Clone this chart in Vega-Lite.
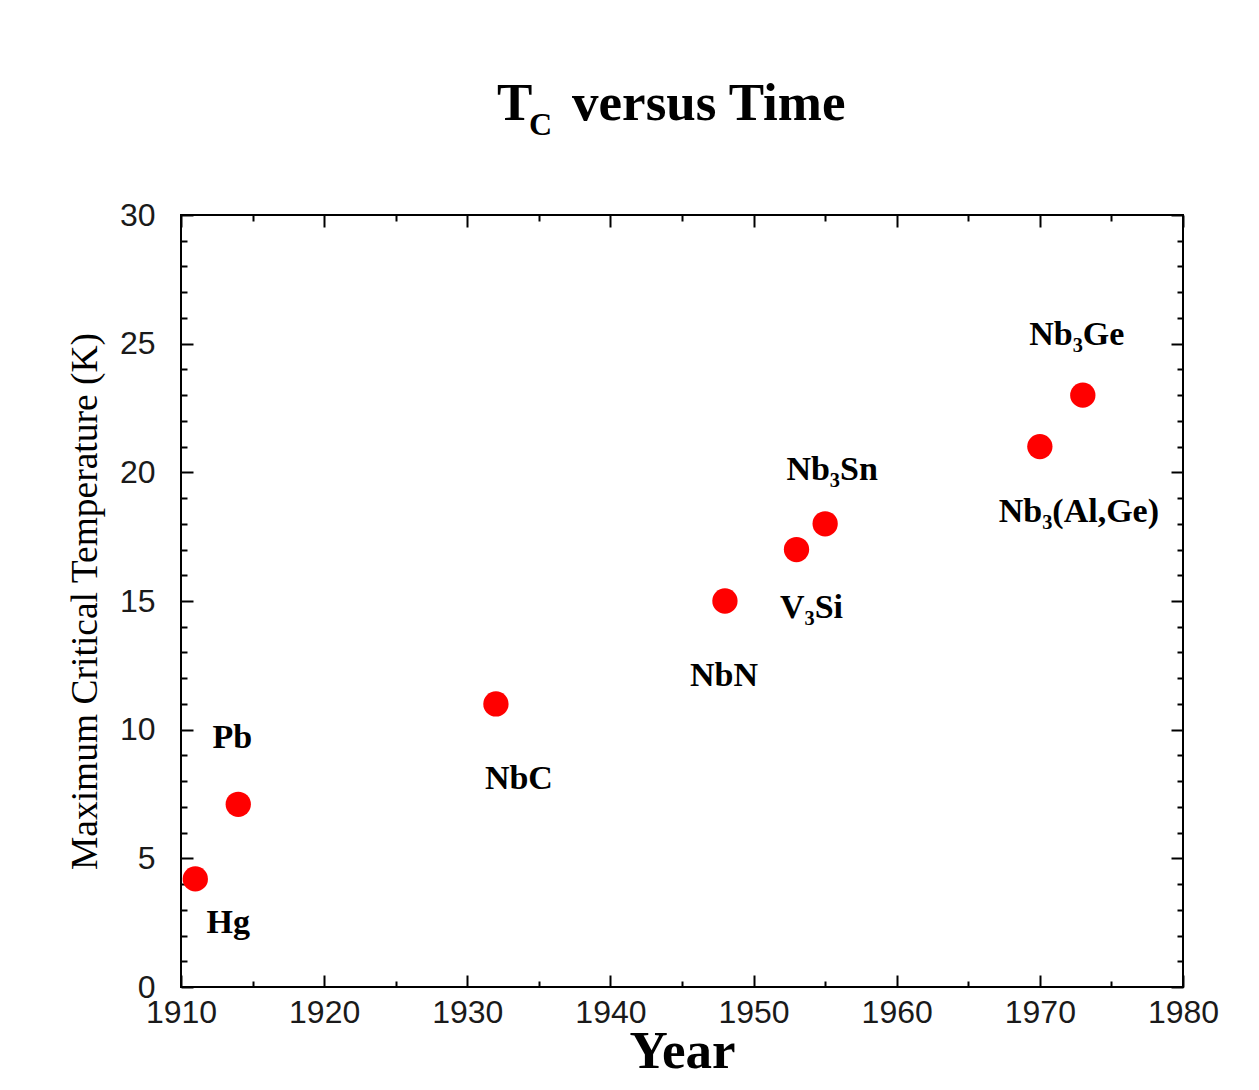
{
  "$schema": "https://vega.github.io/schema/vega-lite/v6.json",
  "width": 1002,
  "height": 772,
  "autosize": {"type": "none"},
  "padding": {"left": 181, "top": 215, "right": 76, "bottom": 103},
  "background": "white",
  "title": {
    "text": "T\u2002 versus Time",
    "subtitle": "\u200b\u00a0\u00a0\u00a0\u00a0C",
    "anchor": "start",
    "frame": "group",
    "dx": 316,
    "offset": 58,
    "font": "Liberation Serif",
    "fontWeight": "bold",
    "fontSize": 53,
    "color": "black",
    "subtitleFont": "Liberation Serif",
    "subtitleFontWeight": "bold",
    "subtitleFontSize": 32,
    "subtitleColor": "black",
    "subtitlePadding": -21
  },
  "data": {
    "values": [
      {"material": "Hg", "year": 1911, "tc": 4.2},
      {"material": "Pb", "year": 1914, "tc": 7.1},
      {"material": "NbC", "year": 1932, "tc": 11},
      {"material": "NbN", "year": 1948, "tc": 15},
      {"material": "V₃Si", "year": 1953, "tc": 17},
      {"material": "Nb₃Sn", "year": 1955, "tc": 18},
      {"material": "Nb₃(Al,Ge)", "year": 1970, "tc": 21},
      {"material": "Nb₃Ge", "year": 1973, "tc": 23}
    ]
  },
  "resolve": {"axis": {"x": "independent", "y": "independent"}},
  "layer": [
    {
      "mark": {"type": "point", "shape": "circle", "filled": true, "size": 640, "color": "#ff0000", "opacity": 1},
      "encoding": {
        "x": {
          "field": "year", "type": "quantitative",
          "scale": {"domain": [1910, 1980], "nice": false, "zero": false},
          "axis": {
            "orient": "bottom",
            "values": [1910, 1920, 1930, 1940, 1950, 1960, 1970, 1980],
            "format": "d",
            "tickSize": -12,
            "labelPadding": 22,
            "title": "Year",
            "titleFont": "Liberation Serif",
            "titleFontWeight": "bold",
            "titleFontSize": 53,
            "titlePadding": -3
          }
        },
        "y": {
          "field": "tc", "type": "quantitative",
          "scale": {"domain": [0, 30], "nice": false, "zero": true},
          "axis": {
            "orient": "left",
            "values": [0, 5, 10, 15, 20, 25, 30],
            "tickSize": -12,
            "labelPadding": 38,
            "title": "Maximum Critical Temperature (K)",
            "titleFont": "Liberation Serif",
            "titleFontWeight": "normal",
            "titleFontSize": 37.5,
            "titlePadding": 15
          }
        }
      }
    },
    {
      "transform": [{"filter": "datum.material === 'Hg'"}],
      "mark": {"type": "text", "dx": 33, "dy": 54},
      "encoding": {
        "text": {"field": "material"},
        "x": {
          "field": "year", "type": "quantitative",
          "scale": {"domain": [1910, 1980], "nice": false, "zero": false},
          "axis": {"orient": "top", "values": [1910, 1920, 1930, 1940, 1950, 1960, 1970, 1980], "tickSize": -12, "labels": false, "title": null}
        },
        "y": {
          "field": "tc", "type": "quantitative",
          "scale": {"domain": [0, 30], "nice": false, "zero": true},
          "axis": {"orient": "right", "values": [0, 5, 10, 15, 20, 25, 30], "tickSize": -12, "labels": false, "title": null}
        }
      }
    },
    {
      "transform": [{"filter": "datum.material === 'Pb'"}],
      "mark": {"type": "text", "dx": -6, "dy": -56},
      "encoding": {
        "text": {"field": "material"},
        "x": {
          "field": "year", "type": "quantitative",
          "scale": {"domain": [1910, 1980], "nice": false, "zero": false},
          "axis": {"orient": "bottom", "values": [1915, 1925, 1935, 1945, 1955, 1965, 1975], "tickSize": -6, "labels": false, "title": null}
        },
        "y": {
          "field": "tc", "type": "quantitative",
          "scale": {"domain": [0, 30], "nice": false, "zero": true},
          "axis": {"orient": "left", "values": [1, 2, 3, 4, 6, 7, 8, 9, 11, 12, 13, 14, 16, 17, 18, 19, 21, 22, 23, 24, 26, 27, 28, 29], "tickSize": -6, "labels": false, "title": null}
        }
      }
    },
    {
      "transform": [{"filter": "datum.material === 'NbC'"}],
      "mark": {"type": "text", "dx": 23, "dy": 85},
      "encoding": {
        "text": {"field": "material"},
        "x": {
          "field": "year", "type": "quantitative",
          "scale": {"domain": [1910, 1980], "nice": false, "zero": false},
          "axis": {"orient": "top", "values": [1915, 1925, 1935, 1945, 1955, 1965, 1975], "tickSize": -6, "labels": false, "title": null}
        },
        "y": {
          "field": "tc", "type": "quantitative",
          "scale": {"domain": [0, 30], "nice": false, "zero": true},
          "axis": {"orient": "right", "values": [1, 2, 3, 4, 6, 7, 8, 9, 11, 12, 13, 14, 16, 17, 18, 19, 21, 22, 23, 24, 26, 27, 28, 29], "tickSize": -6, "labels": false, "title": null}
        }
      }
    },
    {
      "transform": [{"filter": "datum.material === 'NbN'"}],
      "mark": {"type": "text", "dx": -1, "dy": 85},
      "encoding": {
        "text": {"field": "material"},
        "x": {"field": "year", "type": "quantitative", "scale": {"domain": [1910, 1980], "nice": false, "zero": false}, "axis": null},
        "y": {"field": "tc", "type": "quantitative", "scale": {"domain": [0, 30], "nice": false, "zero": true}, "axis": null}
      }
    },
    {
      "transform": [{"filter": "datum.material === 'V₃Si'"}],
      "mark": {"type": "text", "dx": 15, "dy": 68},
      "encoding": {
        "text": {"field": "material"},
        "x": {"field": "year", "type": "quantitative", "scale": {"domain": [1910, 1980], "nice": false, "zero": false}, "axis": null},
        "y": {"field": "tc", "type": "quantitative", "scale": {"domain": [0, 30], "nice": false, "zero": true}, "axis": null}
      }
    },
    {
      "transform": [{"filter": "datum.material === 'Nb₃Sn'"}],
      "mark": {"type": "text", "dx": 7, "dy": -44},
      "encoding": {
        "text": {"field": "material"},
        "x": {"field": "year", "type": "quantitative", "scale": {"domain": [1910, 1980], "nice": false, "zero": false}, "axis": null},
        "y": {"field": "tc", "type": "quantitative", "scale": {"domain": [0, 30], "nice": false, "zero": true}, "axis": null}
      }
    },
    {
      "transform": [{"filter": "datum.material === 'Nb₃(Al,Ge)'"}],
      "mark": {"type": "text", "dx": 39, "dy": 75},
      "encoding": {
        "text": {"field": "material"},
        "x": {"field": "year", "type": "quantitative", "scale": {"domain": [1910, 1980], "nice": false, "zero": false}, "axis": null},
        "y": {"field": "tc", "type": "quantitative", "scale": {"domain": [0, 30], "nice": false, "zero": true}, "axis": null}
      }
    },
    {
      "transform": [{"filter": "datum.material === 'Nb₃Ge'"}],
      "mark": {"type": "text", "dx": -6, "dy": -50},
      "encoding": {
        "text": {"field": "material"},
        "x": {"field": "year", "type": "quantitative", "scale": {"domain": [1910, 1980], "nice": false, "zero": false}, "axis": null},
        "y": {"field": "tc", "type": "quantitative", "scale": {"domain": [0, 30], "nice": false, "zero": true}, "axis": null}
      }
    }
  ],
  "config": {
    "view": {"stroke": "black", "strokeWidth": 2, "fill": "white"},
    "axis": {
      "domain": false,
      "grid": false,
      "tickColor": "black",
      "tickWidth": 2,
      "labelFont": "Liberation Sans",
      "labelFontSize": 32,
      "labelColor": "#1a1a1a",
      "labelFlush": false,
      "labelOverlap": false,
      "labelBound": false,
      "titleColor": "black"
    },
    "text": {
      "font": "Liberation Serif",
      "fontWeight": "bold",
      "fontSize": 34,
      "color": "black",
      "align": "center",
      "baseline": "alphabetic"
    }
  }
}
